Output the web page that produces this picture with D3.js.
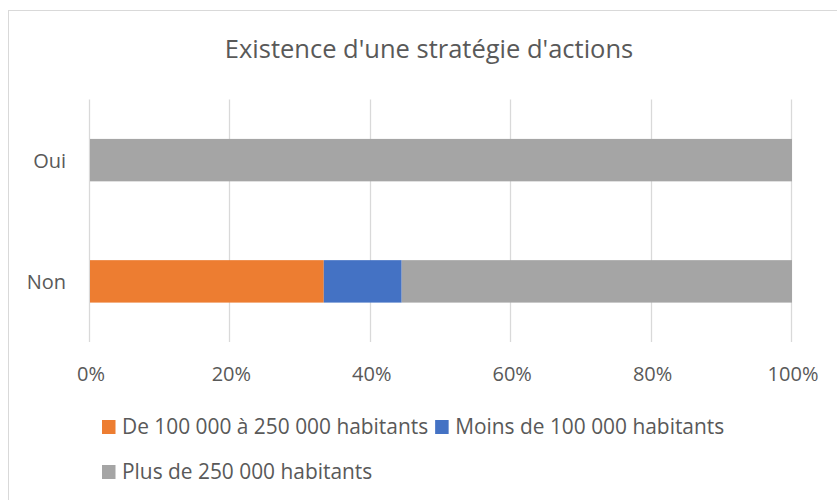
<!DOCTYPE html>
<html>
<head>
<meta charset="utf-8">
<script src="https://cdn.jsdelivr.net/npm/d3@7"></script>
<style>
  body { margin: 0; background: #fff; }
  svg { display: block; font-family: "Open Sans", sans-serif; }
</style>
</head>
<body>
<script>
// data (percent of each answer)
const categories = ["Oui", "Non"];
const seriesNames = ["De 100 000 à 250 000 habitants", "Moins de 100 000 habitants", "Plus de 250 000 habitants"];
const de100a250 = [0, 33.3];
const moins100 = [0, 11.1];
const plus250 = [100, 55.6];
const tickValues = [0, 20, 40, 60, 80, 100];
const colors = ["#ED7D31", "#4472C4", "#A5A5A5"];

let width = 837, height = 500;
let margin = {left: 90, right: 45, top: 99.5, bottom: 158};

// rows for d3.stack
let rows = categories.map((c, i) => ({
  cat: c,
  s0: de100a250[i],
  s1: moins100[i],
  s2: plus250[i]
}));
let stack = d3.stack().keys(["s0", "s1", "s2"]);
let series = stack(rows);

let svg = d3.select("body").append("svg")
  .attr("width", width)
  .attr("height", height);

// chart border
svg.append("rect")
  .attr("x", 8.5).attr("y", 10.5)
  .attr("width", width).attr("height", height)
  .attr("fill", "#fff")
  .attr("stroke", "#d9d9d9");

// title
svg.append("text")
  .attr("x", 429).attr("y", 58)
  .attr("text-anchor", "middle")
  .attr("font-size", 25.5)
  .attr("fill", "#595959")
  .text("Existence d'une stratégie d'actions");

let x = d3.scaleLinear().domain([0, 100]).range([margin.left, width - margin.right]);
let y = d3.scaleBand().domain(categories)
  .range([margin.top, height - margin.bottom])
  .paddingInner(0.65)
  .paddingOuter(0.325);

// vertical gridlines
svg.append("g")
  .selectAll("line")
  .data(tickValues)
  .join("line")
  .attr("x1", d => Math.round(x(d)) - 0.5)
  .attr("x2", d => Math.round(x(d)) - 0.5)
  .attr("y1", margin.top)
  .attr("y2", height - margin.bottom)
  .attr("stroke", "#d9d9d9")
  .attr("stroke-width", 1.3);

// bars
svg.append("g")
  .selectAll("g")
  .data(series)
  .join("g")
  .attr("fill", (d, i) => colors[i])
  .selectAll("rect")
  .data(d => d)
  .join("rect")
  .attr("x", d => x(d[0]))
  .attr("y", d => y(d.data.cat))
  .attr("width", d => x(d[1]) - x(d[0]))
  .attr("height", y.bandwidth());

// x tick labels
svg.append("g")
  .selectAll("text")
  .data(tickValues)
  .join("text")
  .attr("x", d => x(d) + 1)
  .attr("y", 381)
  .attr("text-anchor", "middle")
  .attr("font-size", 20)
  .attr("fill", "#595959")
  .text(d => d + "%");

// category labels
svg.append("g")
  .selectAll("text")
  .data(categories)
  .join("text")
  .attr("x", 66)
  .attr("y", d => y(d) + y.bandwidth() / 2 + 7.5)
  .attr("text-anchor", "end")
  .attr("font-size", 20)
  .attr("fill", "#595959")
  .text(d => d);

// legend, two rows like the original
let legendRows = [[0, 1], [2]];
legendRows.forEach((row, r) => {
  let lx = 102;
  let ly = 434 + r * 45;
  row.forEach(i => {
    svg.append("rect")
      .attr("x", lx).attr("y", ly - 14)
      .attr("width", 13.5).attr("height", 14)
      .attr("fill", colors[i]);
    let t = svg.append("text")
      .attr("x", lx + 20).attr("y", ly)
      .attr("font-size", 20.9)
      .attr("fill", "#595959")
      .text(seriesNames[i]);
    lx += 20 + t.node().getComputedTextLength() + 7;
  });
});
</script>
</body>
</html>
